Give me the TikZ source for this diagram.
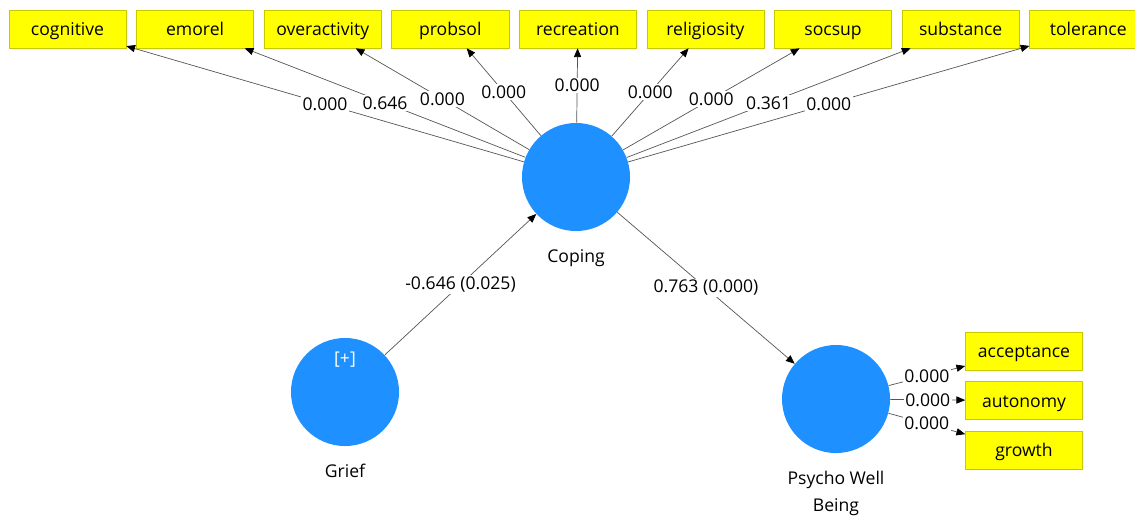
\documentclass[tikz,border=0pt]{standalone}
\usepackage{fontspec}
\setmainfont{Open Sans}
\usetikzlibrary{positioning,arrows.meta}
\definecolor{lvblue}{RGB}{30,144,255}
\definecolor{indyellow}{RGB}{255,255,0}
\definecolor{indborder}{RGB}{200,200,0}
\definecolor{pathgray}{RGB}{85,85,85}
\tikzset{
  ind/.style={draw=indborder, fill=indyellow, minimum height=9.5mm, minimum width=29.25mm, inner sep=0pt,
    text height=1.85ex, text depth=0.1ex, font=\fontsize{12.5}{14}\selectfont},
  lv/.style={circle, fill=lvblue, minimum size=27mm, inner sep=0pt},
  lvname/.style={font=\fontsize{12.5}{19}\selectfont, align=center, label distance=3.3mm},
  arr/.style={-{Triangle[length=2.2mm, width=1.8mm, color=black]}, draw=pathgray, line width=0.5pt},
  wt/.style={fill=white, inner sep=1pt, font=\fontsize{12.5}{14}\selectfont},
}

\begin{document}
\begin{tikzpicture}[x=0.025cm, y=-0.025cm, node distance=2.5mm]
  \useasboundingbox (0,0) rectangle (1135,515);
  % indicators of Coping
  \node[ind] (cognitive) at (67.5,29) {cognitive};
  \node[ind, right=of cognitive] (emorel) {emorel};
  \node[ind, right=of emorel] (overactivity) {overactivity};
  \node[ind, right=of overactivity] (probsol) {probsol};
  \node[ind, right=of probsol] (recreation) {recreation};
  \node[ind, right=of recreation] (religiosity) {religiosity};
  \node[ind, right=of religiosity] (socsup) {socsup};
  \node[ind, right=of socsup] (substance) {substance};
  \node[ind, right=of substance] (tolerance) {tolerance};
  % latent variables
  \node[lv, label={[lvname]below:Coping}] (coping) at (576,177) {};
  \node[lv, label={[lvname]below:Grief}] (grief) at (345,392) {};
  \node[font=\fontsize{12.5}{14}\selectfont, text=white] (griefplus) at ([yshift=8mm]grief.center) {[+]};
  \node[lv, label={[lvname]below:Psycho Well\\Being}] (pwb) at (836,399) {};
  % indicators of Psycho Well Being
  \node[ind] (acceptance) at (1024,351) {acceptance};
  \node[ind, below=2.75mm of acceptance] (autonomy) {autonomy};
  \node[ind, below=2.75mm of autonomy] (growth) {growth};
  % outer weights
  \draw[arr] (coping) -- node[wt] {0.000} (cognitive);
  \draw[arr] (coping) -- node[wt] {0.646} (emorel);
  \draw[arr] (coping) -- node[wt] {0.000} (overactivity);
  \draw[arr] (coping) -- node[wt] {0.000} (probsol);
  \draw[arr] (coping) -- node[wt] {0.000} (recreation);
  \draw[arr] (coping) -- node[wt] {0.000} (religiosity);
  \draw[arr] (coping) -- node[wt] {0.000} (socsup);
  \draw[arr] (coping) -- node[wt] {0.361} (substance);
  \draw[arr] (coping) -- node[wt] {0.000} (tolerance);
  % paths
  \draw[arr] (grief) -- node[wt] {-0.646 (0.025)} (coping);
  \draw[arr] (coping) -- node[wt] {0.763 (0.000)} (pwb);
  \draw[arr] (pwb) -- node[wt] {0.000} (acceptance);
  \draw[arr] (pwb) -- node[wt] {0.000} (autonomy);
  \draw[arr] (pwb) -- node[wt] {0.000} (growth);
\end{tikzpicture}
\end{document}
